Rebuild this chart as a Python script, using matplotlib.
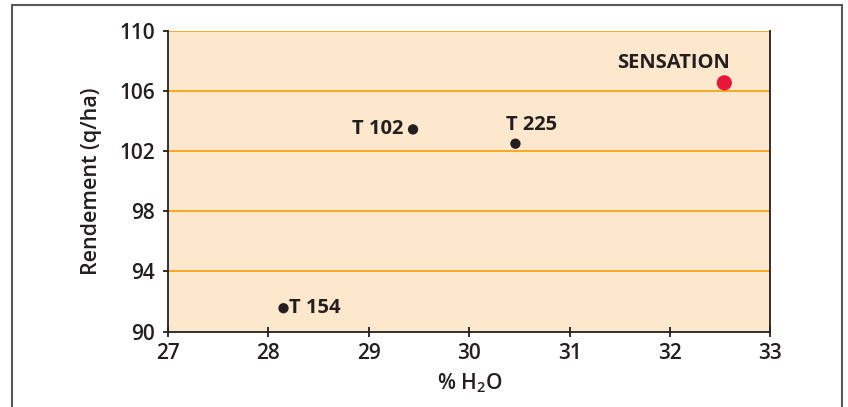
import matplotlib.pyplot as plt
from matplotlib.patches import Rectangle

# donnees
noms = ["T 154", "T 102", "T 225", "SENSATION"]
h2o = [28.15, 29.44, 30.46, 32.54]
rendement = [91.55, 103.45, 102.5, 106.55]
couleurs = ["#231f20", "#231f20", "#231f20", "#e8173a"]
tailles = [55, 55, 55, 120]

x_ticks = [27, 28, 29, 30, 31, 32, 33]
y_ticks = [90, 94, 98, 102, 106, 110]

plt.rcParams['font.family'] = ['Open Sans', 'DejaVu Sans']
plt.rcParams['mathtext.fontset'] = 'custom'
plt.rcParams['mathtext.rm'] = 'Open Sans:semibold'

W, H = 848, 407
fig = plt.figure(figsize=(W / 100, H / 100), dpi=100)
ax = fig.add_axes([168 / W, 1 - 331.5 / H, (770.5 - 168) / W, (331.5 - 31) / H])

# cadre exterieur
fig.patches.append(Rectangle((12 / W, -0.1), (842 - 12) / W, 1.1 - 5 / H,
                             transform=fig.transFigure, fill=False,
                             edgecolor="#58595b", linewidth=1.5))

ax.set_facecolor("#fde8cd")
ax.set_xlim(27, 33)
ax.set_ylim(90, 110)

for y in y_ticks[1:]:
    ax.axhline(y, color="#f7a823", linewidth=1.4, zorder=1)

ax.scatter(h2o, rendement, s=tailles, c=couleurs, zorder=3, linewidths=0)

# etiquettes des points
txt = dict(fontsize=14.5, fontweight="bold", color="#231f20", zorder=4)
ax.annotate(noms[0], (h2o[0], rendement[0]), xytext=(4, 0.5), textcoords="offset points",
            ha="left", va="center", **txt)
ax.annotate(noms[1], (h2o[1], rendement[1]), xytext=(-7, 0), textcoords="offset points",
            ha="right", va="center", **txt)
ax.annotate(noms[2], (h2o[2], rendement[2]), xytext=(-7, 6), textcoords="offset points",
            ha="left", va="bottom", **txt)
ax.annotate(noms[3], (h2o[3], rendement[3]), xytext=(4, 7), textcoords="offset points",
            ha="right", va="bottom", **txt)

ax.set_xticks(x_ticks)
ax.set_yticks(y_ticks)
ax.tick_params(axis="x", direction="inout", length=7, width=1.3, color="#231f20",
               labelsize=15, pad=5)
ax.tick_params(axis="y", direction="out", length=3.5, width=1.3, color="#231f20",
               labelsize=15, pad=6)
for lab in ax.get_xticklabels() + ax.get_yticklabels():
    lab.set_fontweight("semibold")
    lab.set_color("#231f20")

for s in ["left", "bottom", "right"]:
    ax.spines[s].set_color("#231f20")
    ax.spines[s].set_linewidth(1.3)
ax.spines["top"].set_visible(False)

ax.set_xlabel(r"% H$_\mathrm{2}$O", fontsize=15, fontweight="semibold", color="#231f20",
              labelpad=5)
ax.set_ylabel("Rendement (q/ha)", fontsize=15.5, fontweight="semibold", color="#231f20",
              labelpad=12)

fig.savefig("out.png", dpi=100)
